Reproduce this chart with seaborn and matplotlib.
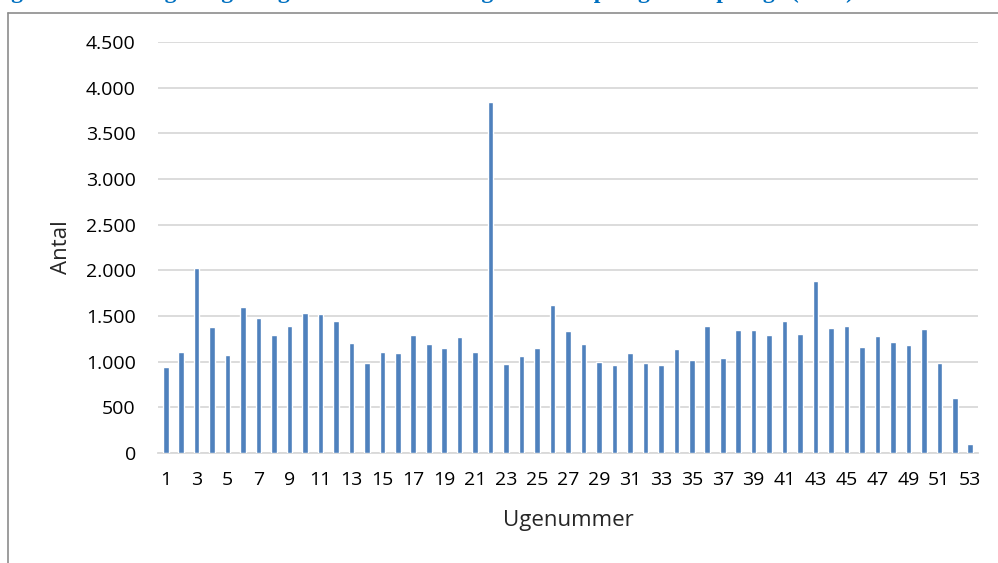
import numpy as np
import pandas as pd
import seaborn as sns
import matplotlib.pyplot as plt
from matplotlib.lines import Line2D
from matplotlib.ticker import FuncFormatter

# --- Data ---
UGER = list(range(1, 54))
ANTAL = [
    940, 1110, 2030, 1380, 1070, 1600, 1480, 1290, 1390, 1530,
    1520, 1440, 1200, 985, 1110, 1100, 1295, 1195, 1145, 1265,
    1105, 3840, 975, 1065, 1155, 1615, 1335, 1190, 1000, 960,
    1095, 980, 965, 1135, 1015, 1395, 1045, 1350, 1350, 1295,
    1445, 1300, 1880, 1365, 1395, 1160, 1285, 1215, 1180, 1360,
    985, 605, 100,
]
Y_TICKS = [0, 500, 1000, 1500, 2000, 2500, 3000, 3500, 4000, 4500]

TITEL = "Figur 3: Fordeling af ugentligt antal anmeldte sager fordelt på ugebasis pr. uge (2019)"
BAR_FARVE = "#4F81BD"
GRID_FARVE = "#D9D9D9"

W, H = 998, 563

sns.set_theme(style="white")
plt.rcParams['font.family'] = ['Open Sans', 'DejaVu Sans']

df = pd.DataFrame({'Uge': UGER, 'Antal': ANTAL})

fig = plt.figure(figsize=(W / 100, H / 100), dpi=100)
ax = fig.add_axes([158 / W, 1 - 453 / H, (978 - 158) / W, (453 - 42) / H])

sns.barplot(data=df, x='Uge', y='Antal', color=BAR_FARVE, width=0.36,
            saturation=1, ax=ax, zorder=3)

ax.set_ylim(0, 4500)
ax.set_xlim(-0.5, len(UGER) - 0.5)
ax.set_yticks(Y_TICKS)
ax.yaxis.set_major_formatter(FuncFormatter(lambda v, p: f"{v:,.0f}".replace(',', '.')))
ax.set_xticks(range(0, len(UGER), 2))
ax.set_xticklabels([str(u) for u in UGER[::2]])

ax.grid(axis='y', color=GRID_FARVE, linewidth=1.3, zorder=0)
for side in ['top', 'right', 'left']:
    ax.spines[side].set_visible(False)
ax.spines['bottom'].set_color(GRID_FARVE)
ax.spines['bottom'].set_linewidth(1.3)
ax.tick_params(axis='both', length=0, labelsize=14, colors='black')
ax.tick_params(axis='y', pad=16)
ax.tick_params(axis='x', pad=13)

ax.set_ylabel('Antal', fontsize=16, labelpad=10)
ax.set_xlabel('Ugenummer', fontsize=16, labelpad=15)

# ramme om diagrammet (kun top og venstre kant synlig)
fig.add_artist(Line2D([8 / W, 1], [1 - 12.5 / H, 1 - 12.5 / H], color='#8C8C8C', lw=1.2))
fig.add_artist(Line2D([8 / W, 8 / W], [0, 1 - 12.5 / H], color='#8C8C8C', lw=1.2))

# overskrift, delvist beskåret i toppen (som i originalen)
fig.text(-0.01, 1 + 2 / H, TITEL, fontsize=17, fontweight='bold',
         family=['Liberation Serif', 'DejaVu Serif'], color='#0070C0',
         ha='left', va='baseline')

fig.savefig('out.png', dpi=100)
